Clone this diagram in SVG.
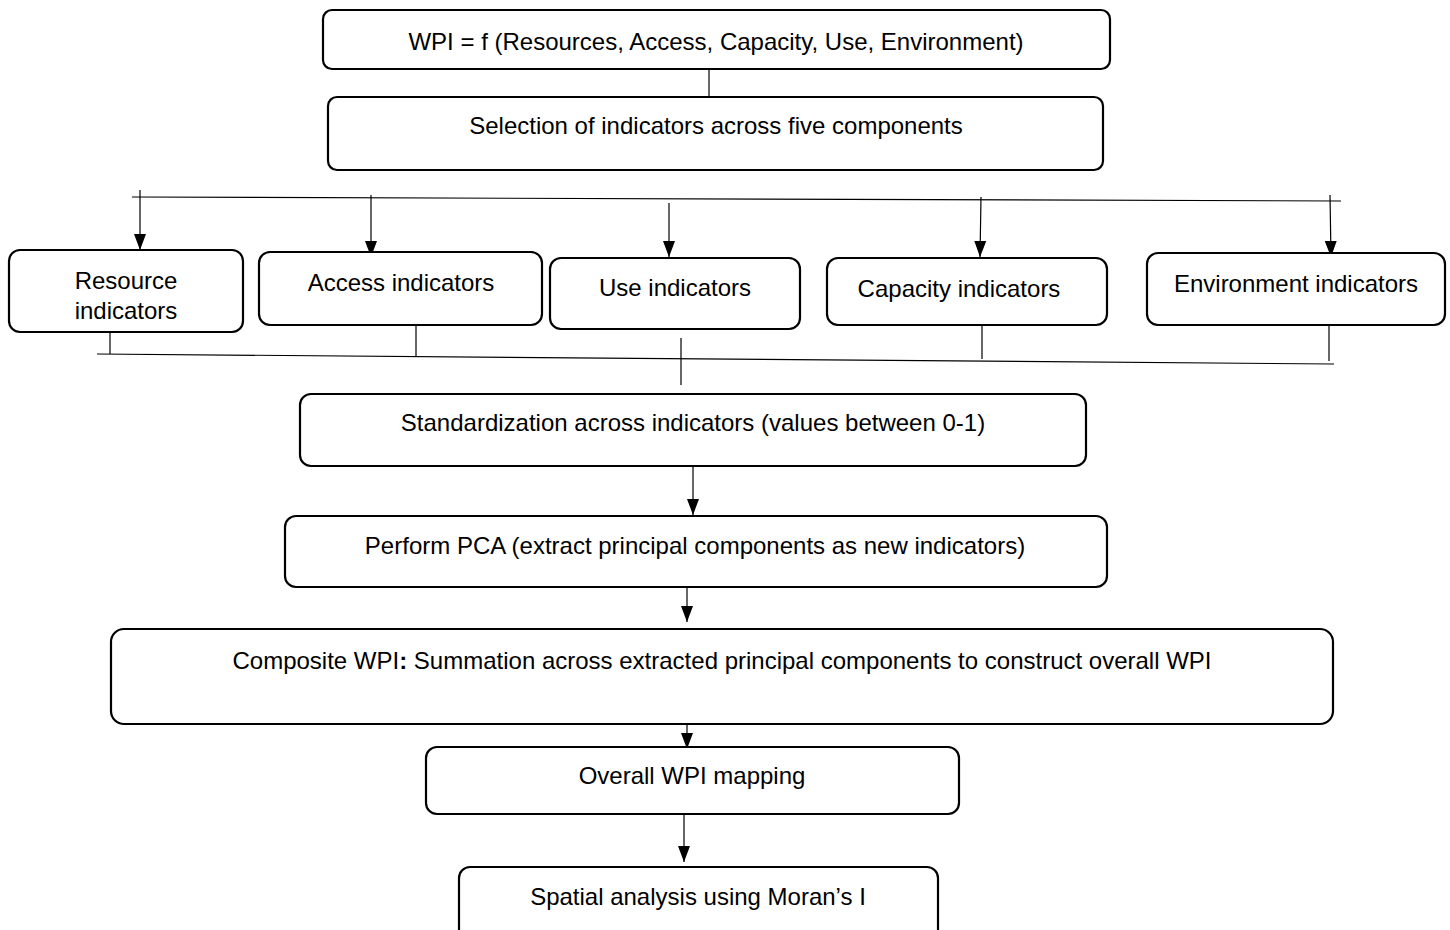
<svg xmlns="http://www.w3.org/2000/svg" width="1450" height="930" viewBox="0 0 1450 930">
<style>
.box{fill:#fff;stroke:#000;stroke-width:2.2}
.t{font-family:"Liberation Sans",Arial,sans-serif;font-size:24px;fill:#000;text-anchor:middle}
.c{stroke:#000;stroke-width:1.2;fill:none}
.a{stroke:#000;stroke-width:1.2;fill:none;marker-end:url(#ah)}
</style>
<defs>
<marker id="ah" viewBox="0 0 16 12" refX="16" refY="6" markerWidth="16" markerHeight="12" markerUnits="userSpaceOnUse" orient="auto">
<path d="M0,0 L16,6 L0,12 Z" fill="#000"/>
</marker>
</defs>
<rect width="1450" height="930" fill="#fff"/>
<g id="connectors">
<line class="c" x1="709" y1="69" x2="709" y2="98"/>
<line class="c" x1="132" y1="197" x2="1341" y2="201"/>
<line class="a" x1="140" y1="190" x2="140" y2="250"/>
<line class="a" x1="371" y1="195" x2="371" y2="257"/>
<line class="a" x1="669" y1="203" x2="669" y2="257"/>
<line class="a" x1="981" y1="197" x2="980" y2="257"/>
<line class="a" x1="1330" y1="195" x2="1331" y2="257"/>
<line class="c" x1="110" y1="321" x2="110" y2="354"/>
<line class="c" x1="416" y1="319" x2="416" y2="356"/>
<line class="c" x1="681" y1="338" x2="681" y2="385"/>
<line class="c" x1="982" y1="325" x2="982" y2="359"/>
<line class="c" x1="1329" y1="325" x2="1329" y2="361"/>
<line class="c" x1="97" y1="354" x2="1334" y2="364"/>
<line class="a" x1="693" y1="459" x2="693" y2="515"/>
<line class="a" x1="687" y1="588" x2="687" y2="622"/>
<line class="a" x1="687" y1="716" x2="687" y2="749"/>
<line class="a" x1="684" y1="814" x2="684" y2="862"/>
</g>
<g id="n-wpi"><rect class="box" x="323" y="10" width="787" height="59" rx="9"/><text class="t" x="716" y="50">WPI = f (Resources, Access, Capacity, Use, Environment)</text></g>
<g id="n-selection"><rect class="box" x="328" y="97" width="775" height="73" rx="9"/><text class="t" x="716" y="134">Selection of indicators across five components</text></g>
<g id="n-resource"><rect class="box" x="9" y="250" width="234" height="82" rx="11"/><text class="t" x="126" y="289">Resource</text><text class="t" x="126" y="319">indicators</text></g>
<g id="n-access"><rect class="box" x="259" y="252" width="283" height="73" rx="11"/><text class="t" x="401" y="291">Access indicators</text></g>
<g id="n-use"><rect class="box" x="550" y="258" width="250" height="71" rx="11"/><text class="t" x="675" y="296">Use indicators</text></g>
<g id="n-capacity"><rect class="box" x="827" y="258" width="280" height="67" rx="11"/><text class="t" x="959" y="297">Capacity indicators</text></g>
<g id="n-environment"><rect class="box" x="1147" y="253" width="298" height="72" rx="11"/><text class="t" x="1296" y="292">Environment indicators</text></g>
<g id="n-standardization"><rect class="box" x="300" y="394" width="786" height="72" rx="11"/><text class="t" x="693" y="431">Standardization across indicators (values between 0-1)</text></g>
<g id="n-pca"><rect class="box" x="285" y="516" width="822" height="71" rx="11"/><text class="t" x="695" y="554">Perform PCA (extract principal components as new indicators)</text></g>
<g id="n-composite"><rect class="box" x="111" y="629" width="1222" height="95" rx="13"/><text class="t" x="722" y="669">Composite WPI<tspan font-weight="bold">:</tspan> Summation across extracted principal components to construct overall WPI</text></g>
<g id="n-overall"><rect class="box" x="426" y="747" width="533" height="67" rx="11"/><text class="t" x="692" y="784">Overall WPI mapping</text></g>
<g id="n-spatial"><rect class="box" x="459" y="867" width="479" height="75" rx="11"/><text class="t" x="698" y="905">Spatial analysis using Moran’s I</text></g>
</svg>
